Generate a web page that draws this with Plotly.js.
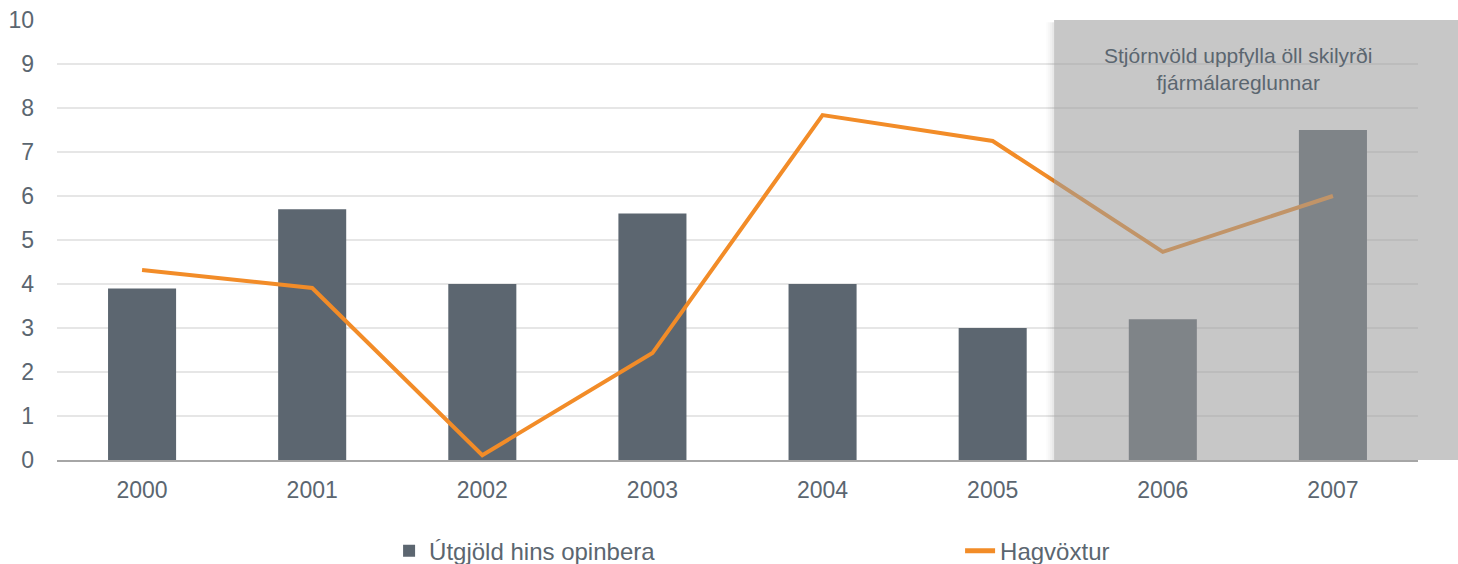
<!DOCTYPE html>
<html>
<head>
<meta charset="utf-8">
<script src="https://cdn.plot.ly/plotly-3.0.1.min.js"></script>
<style>html,body{margin:0;padding:0;background:#fff;}#chart{width:1458px;height:564px;}</style>
</head>
<body>
<div id="chart"></div>
<script>
const years = ['2000','2001','2002','2003','2004','2005','2006','2007'];
const utgjold = [3.9, 5.7, 4.0, 5.6, 4.0, 3.0, 3.2, 7.5];
const hagvoxtur = [4.32, 3.91, 0.11, 2.43, 7.84, 7.25, 4.73, 6.0];
const yTicks = [0,1,2,3,4,5,6,7,8,9,10];

const textColor = '#5b6670';
const traces = [
  {type:'bar', x:years, y:utgjold, name:'Útgjöld hins opinbera', marker:{color:'#5c6670'}, hoverinfo:'none'},
  {type:'scatter', mode:'lines', x:years, y:hagvoxtur, name:'Hagvöxtur', line:{color:'#f28c28', width:4}, hoverinfo:'none'}
];

const sx0 = 0.7326, sx1 = 1.04;
const px = 1/1361;
const shadowShapes = [];
// soft shadow strips to the left and below the shaded box
[[8,0.015],[6,0.02],[4,0.025],[2,0.03]].forEach(([d,a]) => {
  shadowShapes.push({type:'rect', xref:'paper', yref:'y', x0:sx0 - d*px, x1:sx0, y0:-0.07 - d/44, y1:9.95, fillcolor:'rgba(0,0,0,'+a+')', line:{width:0}, layer:'above'});
  shadowShapes.push({type:'rect', xref:'paper', yref:'y', x0:sx0, x1:sx1, y0:-0.07 - d/44, y1:-0.07, fillcolor:'rgba(0,0,0,'+a+')', line:{width:0}, layer:'above'});
});

const layout = {
  width:1458, height:564,
  margin:{l:57, r:40, t:20, b:104, autoexpand:false},
  paper_bgcolor:'#fff', plot_bgcolor:'#fff',
  font:{family:'Liberation Sans, Arial, sans-serif', size:23, color:textColor},
  bargap:0.6,
  showlegend:true,
  legend:{orientation:'h', x:0.244, xanchor:'left', y:-0.207, yanchor:'middle',
          entrywidth:526, entrywidthmode:'pixels', font:{size:24, color:textColor}, itemsizing:'constant'},
  xaxis:{type:'category', showgrid:false, showline:true, linecolor:'#a6a6a6', linewidth:2, ticks:'', tickfont:{size:23, color:textColor}, ticklabelstandoff:8},
  yaxis:{range:[0,10], tickvals:yTicks, showgrid:true, gridcolor:'#e6e6e6', gridwidth:2, zeroline:false, showline:false, ticks:'', tickfont:{size:23, color:textColor}, ticklabelstandoff:22},
  shapes: shadowShapes.concat([
    {type:'rect', xref:'paper', yref:'y', x0:sx0, x1:sx1, y0:-0.07, y1:10.0, fillcolor:'rgba(156,156,156,0.56)', line:{width:0}, layer:'above'}
  ]),
  annotations:[
    {xref:'paper', yref:'y', x:0.868, xanchor:'center', y:8.89, text:'Stjórnvöld uppfylla öll skilyrði<br>fjármálareglunnar', showarrow:false, font:{size:21, color:textColor}, align:'center', yanchor:'middle'}
  ]
};
Plotly.newPlot('chart', traces, layout, {displayModeBar:false, staticPlot:true});
</script>
</body>
</html>
